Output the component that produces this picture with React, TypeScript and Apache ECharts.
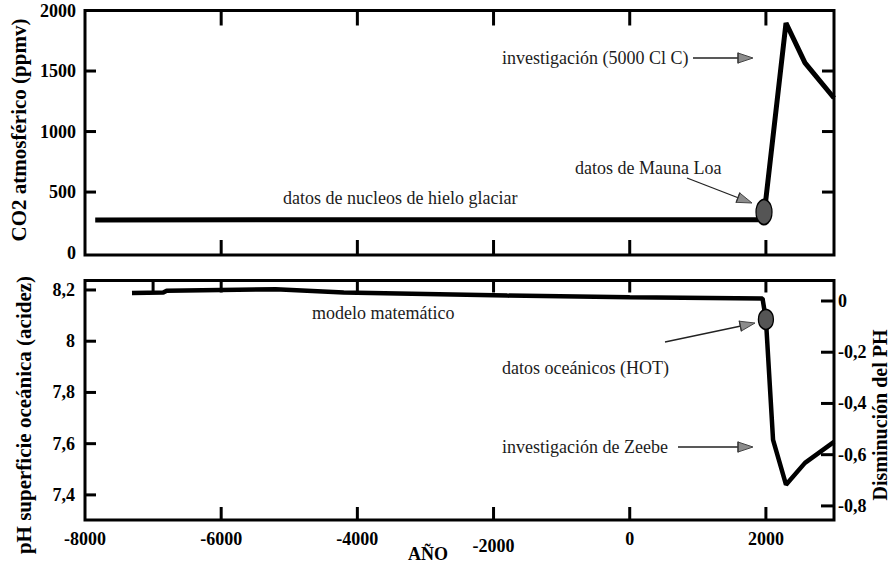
import React, { useEffect, useRef } from "react";
import * as echarts from "echarts";

// ---- data ----
const co2Years = [-7850, 1965, 2295, 2574, 3000];
const co2Values = [270, 272, 1897, 1567, 1277];
const maunaLoaPoint = [1972, 335];

const phYears = [-7310, -6850, -6800, -5200, -4200, -1800, 0, 1950, 2000, 2105, 2295, 2574, 3000];
const phValues = [8.188, 8.19, 8.197, 8.203, 8.19, 8.178, 8.172, 8.167, 8.085, 7.615, 7.44, 7.525, 7.607];
const hotPoint = [2000, 8.085];

const yearTicks = [-8000, -6000, -4000, -2000, 0, 2000];
const yearTickMarks = [-6000, -4000, -2000, 0, 2000];
const yearTickMarksPhTop = [-7000, -6000, -4000, -2000, 0, 2000];
const co2Ticks = [0, 500, 1000, 1500, 2000];
const co2TickMarks = [500, 1000, 1500];
const phTicks = [7.4, 7.6, 7.8, 8, 8.2];
const dphTicks = [0, -0.2, -0.4, -0.6, -0.8];

// axis extents
const X_MIN = -8000, X_MAX = 3000;
const CO2_MIN = -20, CO2_MAX = 2000;
const PH_MIN = 7.302, PH_MAX = 8.237;
const DPH_MIN = -0.855, DPH_MAX = 0.08;

// grid geometry
const G_LEFT = 85, G_RIGHT = 58, G_W = 892 - G_LEFT - G_RIGHT;
const G0_TOP = 10.5, G0_H = 244.5;
const G1_TOP = 280.5, G1_H = 239.5;

const FONT = "Liberation Serif, serif";

function fmtComma(v: number) {
  const r = Math.round(v * 10) / 10;
  return String(r).replace(".", ",");
}

function arrowHead(tip: [number, number], dir: [number, number], len = 15, half = 5) {
  const n = Math.hypot(dir[0], dir[1]);
  const ux = dir[0] / n, uy = dir[1] / n;
  const bx = tip[0] - ux * len, by = tip[1] - uy * len;
  const px = -uy * half, py = ux * half;
  return [
    {
      type: "polygon",
      shape: { points: [tip, [bx + px, by + py], [bx - px, by - py]] },
      style: { fill: "#8c8c8c", stroke: "#444", lineWidth: 1 },
      z: 10,
    },
    {
      type: "line",
      shape: { x1: bx + px * 1.1, y1: by + py * 1.1, x2: bx - px * 1.1, y2: by - py * 1.1 },
      style: { stroke: "#333", lineWidth: 1.2 },
      z: 10,
    },
  ];
}

function annot(text: string, x: number, y: number) {
  return {
    type: "text",
    x,
    y,
    z: 10,
    style: {
      text,
      fill: "#1c1c1c",
      fontSize: 18,
      fontFamily: FONT,
      align: "left",
      verticalAlign: "middle",
      textAlign: "left",
      textVerticalAlign: "middle",
    },
  };
}

function arrowLine(x1: number, y1: number, x2: number, y2: number) {
  return {
    type: "line",
    shape: { x1, y1, x2, y2 },
    style: { stroke: "#222", lineWidth: 1.3 },
    z: 10,
  };
}

function vTitle(text: string, x: number, y: number, size: number) {
  return {
    type: "text",
    x,
    y,
    rotation: Math.PI / 2,
    z: 10,
    style: {
      text,
      fill: "#000",
      fontSize: size,
      fontWeight: "bold",
      fontFamily: FONT,
      align: "center",
      verticalAlign: "middle",
      textAlign: "center",
      textVerticalAlign: "middle",
    },
  };
}

function tickLine(x1: number, y1: number, x2: number, y2: number) {
  return {
    type: "line",
    shape: { x1, y1, x2, y2 },
    style: { stroke: "#000", lineWidth: 3 },
    z: 20,
    silent: true,
  };
}

// linear axis scales matching the chart's value axes
const sx = (v: number) => G_LEFT + ((v - X_MIN) / (X_MAX - X_MIN)) * G_W;
const sy0 = (v: number) => G0_TOP + ((CO2_MAX - v) / (CO2_MAX - CO2_MIN)) * G0_H;
const sy1 = (v: number) => G1_TOP + ((PH_MAX - v) / (PH_MAX - PH_MIN)) * G1_H;
const sy1r = (v: number) => G1_TOP + ((DPH_MAX - v) / (DPH_MAX - DPH_MIN)) * G1_H;

function buildTicks() {
  const t: any[] = [];
  const xr = G_LEFT + G_W;
  yearTickMarks.forEach((v) => {
    t.push(tickLine(sx(v), G0_TOP, sx(v), G0_TOP + 15));
    t.push(tickLine(sx(v), G0_TOP + G0_H, sx(v), G0_TOP + G0_H - 15));
    t.push(tickLine(sx(v), G1_TOP + G1_H, sx(v), G1_TOP + G1_H - 13));
  });
  yearTickMarksPhTop.forEach((v) => t.push(tickLine(sx(v), G1_TOP, sx(v), G1_TOP + 12)));
  co2TickMarks.forEach((v) => {
    t.push(tickLine(G_LEFT, sy0(v), G_LEFT + 11, sy0(v)));
    t.push(tickLine(xr, sy0(v), xr - 12, sy0(v)));
  });
  phTicks.forEach((v) => t.push(tickLine(G_LEFT, sy1(v), G_LEFT + 11, sy1(v))));
  dphTicks.forEach((v) => t.push(tickLine(xr, sy1r(v), xr - 13, sy1r(v))));
  return t;
}

export default function App() {
  const ref = useRef<HTMLDivElement>(null);

  useEffect(() => {
    if (!ref.current) return;
    const chart = echarts.init(ref.current, null, { renderer: "svg" });

    const labelFont = { fontFamily: FONT, fontWeight: "bold" as const, fontSize: 18, color: "#000" };

    const xBase = (gridIndex: number, position: "top" | "bottom", labels: boolean) => ({
      type: "value",
      gridIndex,
      position,
      min: X_MIN,
      max: X_MAX,
      splitLine: { show: false },
      axisLine: { show: false, onZero: false },
      axisTick: { show: false },
      axisLabel: labels
        ? {
            show: true,
            margin: 10,
            customValues: yearTicks,
            ...labelFont,
            formatter: (v: number) => (v === -2000 ? `{lo|${v}}` : String(v)),
            rich: { lo: { ...labelFont, lineHeight: 32 } },
          }
        : { show: false },
    });

    const yBase = (gridIndex: number, position: "left" | "right", min: number, max: number, labels: any) => ({
      type: "value",
      gridIndex,
      position,
      min,
      max,
      splitLine: { show: false },
      axisLine: { show: false, onZero: false },
      axisTick: { show: false },
      axisLabel: labels,
    });

    const co2Data = co2Years.map((y, i) => [y, co2Values[i]]);
    const phData = phYears.map((y, i) => [y, phValues[i]]);

    const graphic: any[] = [
      vTitle("CO2 atmosférico (ppmv)", 19, 130, 21),
      vTitle("pH superficie oceánica (acidez)", 24, 415, 21),
      vTitle("Disminución del PH", 880, 415, 20),
      {
        type: "text",
        x: 428,
        y: 545,
        z: 10,
        style: {
          text: "AÑO",
          fill: "#000",
          fontSize: 18,
          fontWeight: "bold",
          fontFamily: FONT,
          align: "center",
          verticalAlign: "top",
          textAlign: "center",
          textVerticalAlign: "top",
        },
      },
      annot("investigación (5000 Cl C)", 502, 58),
      arrowLine(693, 58, 740, 58),
      ...arrowHead([753, 58], [1, 0]),
      annot("datos de Mauna Loa", 575, 168),
      arrowLine(687, 178, 740, 198.5),
      ...arrowHead([752, 203], [63, 24]),
      annot("datos de nucleos de hielo glaciar", 283, 198),
      annot("modelo matemático", 312, 313),
      annot("datos oceánicos (HOT)", 502, 368),
      arrowLine(665, 342, 741, 326),
      ...arrowHead([755, 323], [90, -19]),
      annot("investigación de Zeebe", 502, 447),
      arrowLine(678, 447, 740, 447),
      ...arrowHead([753, 447], [1, 0]),
      ...buildTicks(),
    ];

    const option = {
      animation: false,
      backgroundColor: "#ffffff",
      grid: [
        { left: G_LEFT, right: G_RIGHT, top: G0_TOP, height: G0_H, show: true, borderColor: "#000", borderWidth: 3, backgroundColor: "transparent" },
        { left: G_LEFT, right: G_RIGHT, top: G1_TOP, height: G1_H, show: true, borderColor: "#000", borderWidth: 3, backgroundColor: "transparent" },
      ],
      xAxis: [
        xBase(0, "bottom", false),
        xBase(0, "top", false),
        xBase(1, "bottom", true),
        xBase(1, "top", false),
      ],
      yAxis: [
        yBase(0, "left", CO2_MIN, CO2_MAX, {
          show: true, margin: 9, customValues: co2Ticks, ...labelFont, formatter: (v: number) => String(v),
        }),
        yBase(0, "right", CO2_MIN, CO2_MAX, { show: false }),
        yBase(1, "left", PH_MIN, PH_MAX, {
          show: true, margin: 10, customValues: phTicks, ...labelFont, formatter: fmtComma,
        }),
        yBase(1, "right", DPH_MIN, DPH_MAX, {
          show: true, margin: 4, customValues: dphTicks, ...labelFont, formatter: fmtComma,
        }),
      ],
      series: [
        {
          type: "line",
          xAxisIndex: 0,
          yAxisIndex: 0,
          data: co2Data,
          showSymbol: false,
          symbol: "none",
          lineStyle: { color: "#000", width: 5 },
          z: 3,
        },
        {
          type: "scatter",
          xAxisIndex: 0,
          yAxisIndex: 0,
          data: [maunaLoaPoint],
          symbol: "circle",
          symbolSize: [16, 25],
          itemStyle: { color: "#555", borderColor: "#000", borderWidth: 1.5, opacity: 1 },
          z: 5,
        },
        {
          type: "line",
          xAxisIndex: 2,
          yAxisIndex: 2,
          data: phData,
          showSymbol: false,
          symbol: "none",
          lineStyle: { color: "#000", width: 4.5 },
          z: 3,
        },
        {
          type: "scatter",
          xAxisIndex: 2,
          yAxisIndex: 2,
          data: [hotPoint],
          symbol: "circle",
          symbolSize: [15, 20],
          itemStyle: { color: "#555", borderColor: "#000", borderWidth: 1.5, opacity: 1 },
          z: 5,
        },
      ],
      graphic,
    };

    chart.setOption(option as any);
    return () => chart.dispose();
  }, []);

  return (
    <div
      ref={ref}
      style={{ position: "absolute", left: 0, top: 0, width: 892, height: 563 }}
    />
  );
}
